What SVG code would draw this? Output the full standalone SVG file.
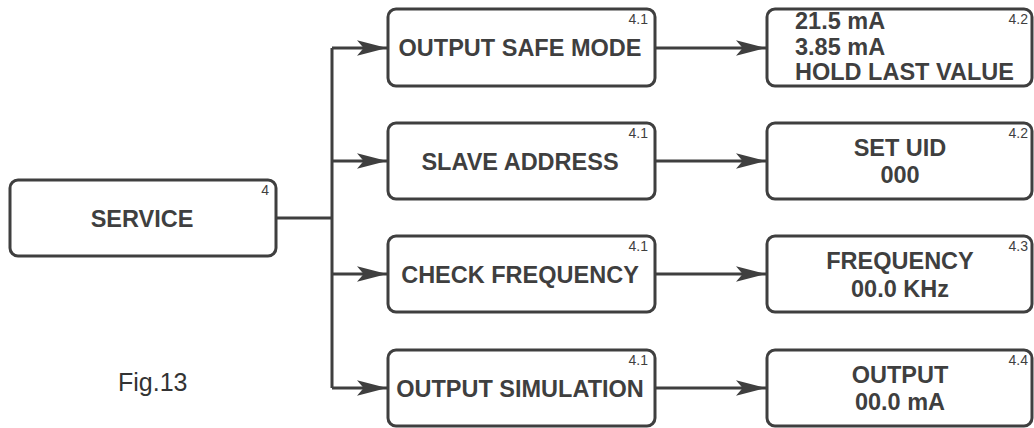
<svg xmlns="http://www.w3.org/2000/svg" width="1034" height="428" viewBox="0 0 1034 428">
<style>
.box{fill:#fff;stroke:#3f3f3f;stroke-width:3}
.t{font-family:"Liberation Sans",Arial,sans-serif;font-weight:bold;font-size:23.5px;fill:#3f3f3f}
.m{text-anchor:middle}
.s{font-family:"Liberation Sans",Arial,sans-serif;font-size:14px;fill:#3f3f3f;text-anchor:end}
.ln{fill:none;stroke:#3f3f3f;stroke-width:3}
.fig{font-family:"Liberation Sans",Arial,sans-serif;font-size:25px;fill:#333}
</style>
<defs>
<marker id="ah" markerUnits="userSpaceOnUse" markerWidth="30" markerHeight="16" refX="27" refY="7" orient="auto" viewBox="0 0 27 14">
<path d="M27,7 L0,0 L6,7 L0,14 Z" fill="#3f3f3f"/>
</marker>
</defs>
<rect width="1034" height="428" fill="#fff"/>
<g id="connectors">
<path class="ln" d="M276,218 H332"/>
<path class="ln" d="M332,48 V388"/>
<path class="ln" d="M332,48 H387" marker-end="url(#ah)"/>
<path class="ln" d="M332,161 H387" marker-end="url(#ah)"/>
<path class="ln" d="M332,274 H387" marker-end="url(#ah)"/>
<path class="ln" d="M332,388 H387" marker-end="url(#ah)"/>
<path class="ln" d="M655,48 H766" marker-end="url(#ah)"/>
<path class="ln" d="M655,161 H766" marker-end="url(#ah)"/>
<path class="ln" d="M655,274 H766" marker-end="url(#ah)"/>
<path class="ln" d="M655,388 H766" marker-end="url(#ah)"/>
</g>
<g id="service">
<rect class="box" x="10" y="180" width="266" height="76" rx="8"/>
<text class="t m" x="142" y="227">SERVICE</text>
<text class="s" x="269" y="195">4</text>
</g>
<g id="output-safe-mode">
<rect class="box" x="388" y="9" width="267" height="77" rx="8"/>
<text class="t m" x="520" y="56">OUTPUT SAFE MODE</text>
<text class="s" x="648" y="24">4.1</text>
</g>
<g id="slave-address">
<rect class="box" x="388" y="123" width="267" height="76" rx="8"/>
<text class="t m" x="520" y="170">SLAVE ADDRESS</text>
<text class="s" x="648" y="138">4.1</text>
</g>
<g id="check-frequency">
<rect class="box" x="388" y="236" width="267" height="76" rx="8"/>
<text class="t m" x="520" y="283">CHECK FREQUENCY</text>
<text class="s" x="648" y="251">4.1</text>
</g>
<g id="output-simulation">
<rect class="box" x="388" y="350" width="267" height="76" rx="8"/>
<text class="t m" x="520" y="397">OUTPUT SIMULATION</text>
<text class="s" x="648" y="365">4.1</text>
</g>
<g id="safe-mode-values">
<rect class="box" x="767" y="9" width="265" height="77" rx="8"/>
<text class="t" x="795" y="29">21.5 mA</text>
<text class="t" x="795" y="55">3.85 mA</text>
<text class="t" x="795" y="80">HOLD LAST VALUE</text>
<text class="s" x="1028" y="24">4.2</text>
</g>
<g id="set-uid">
<rect class="box" x="767" y="123" width="265" height="76" rx="8"/>
<text class="t m" x="900" y="156">SET UID</text>
<text class="t m" x="900" y="183">000</text>
<text class="s" x="1028" y="138">4.2</text>
</g>
<g id="frequency">
<rect class="box" x="767" y="236" width="265" height="76" rx="8"/>
<text class="t m" x="900" y="269">FREQUENCY</text>
<text class="t m" x="900" y="297">00.0 KHz</text>
<text class="s" x="1028" y="251">4.3</text>
</g>
<g id="output">
<rect class="box" x="767" y="350" width="265" height="76" rx="8"/>
<text class="t m" x="900" y="383">OUTPUT</text>
<text class="t m" x="900" y="410">00.0 mA</text>
<text class="s" x="1028" y="365">4.4</text>
</g>
<text class="fig" x="118" y="391">Fig.13</text>
</svg>
